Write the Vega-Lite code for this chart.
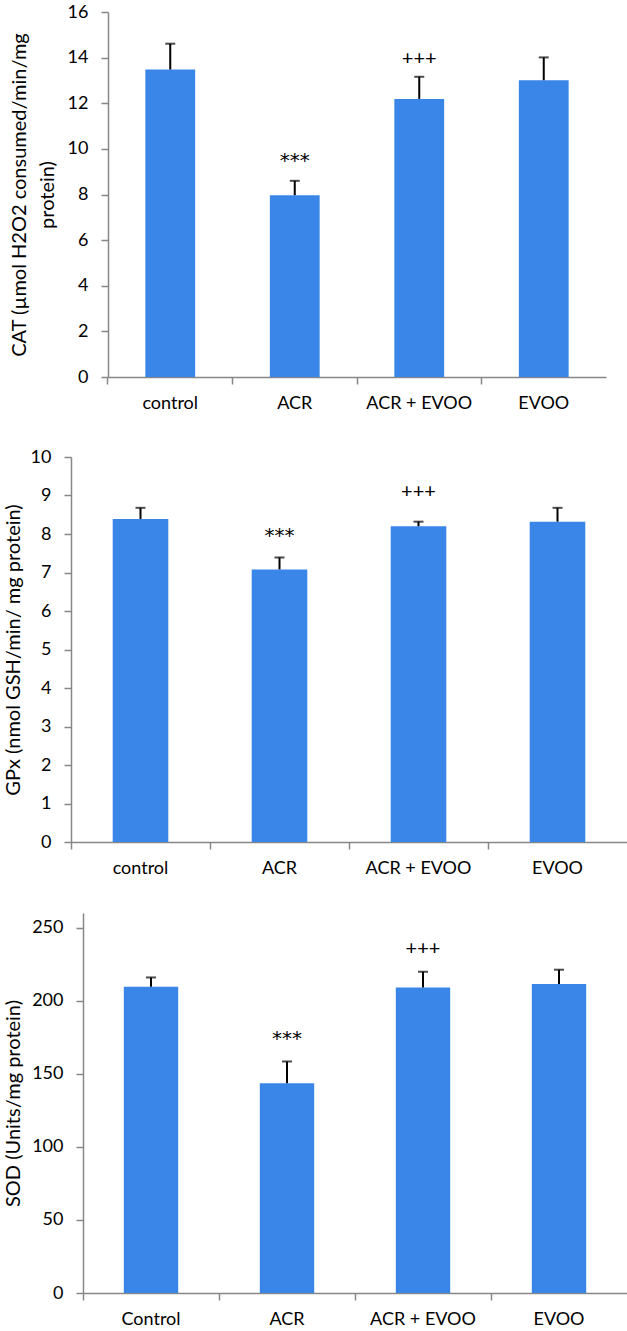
{
  "$schema": "https://vega.github.io/schema/vega-lite/v6.json",
  "padding": {"left": 0, "top": 3, "right": 0, "bottom": 0},
  "background": "white",
  "spacing": 36,
  "config": {
    "font": "Lato",
    "view": {"stroke": null},
    "axis": {
      "domainColor": "#878787",
      "domainWidth": 1.5,
      "tickColor": "#878787",
      "tickWidth": 1.5,
      "tickSize": 7,
      "labelColor": "black",
      "labelFont": "Lato",
      "labelFontSize": 18,
      "titleFont": "Lato",
      "titleFontSize": 20,
      "titleFontWeight": "normal",
      "titleColor": "black",
      "grid": false
    },
    "axisX": {"labelAngle": 0, "labelPadding": 10, "bandPosition": -0.75, "title": null},
    "axisY": {"labelPadding": 13, "labelOverlap": false}
  },
  "vconcat": [
    {"spacing": 0, "hconcat": [
        {"width": 9, "height": 1, "data": {"values": [{}]}, "mark": {"type": "rect", "opacity": 0}, "encoding": {}},
        {
          "width": 498,
          "height": 365,
          "data": {"values": [
            {"group": "control", "mean": 13.48, "upper": 14.61, "sig": ""},
            {"group": "ACR", "mean": 7.97, "upper": 8.6, "sig": "***"},
            {"group": "ACR + EVOO", "mean": 12.19, "upper": 13.16, "sig": "+++"},
            {"group": "EVOO", "mean": 13.01, "upper": 14.01, "sig": ""}
          ]},
          "encoding": {
            "x": {"field": "group", "type": "nominal", "sort": null,
                  "scale": {"paddingInner": 0.6, "paddingOuter": 0.3}}
          },
          "layer": [
            {"mark": {"type": "bar", "color": "#3A85E8"},
             "encoding": {"y": {"field": "mean", "type": "quantitative",
               "scale": {"domain": [0, 16]},
               "axis": {"values": [0, 2, 4, 6, 8, 10, 12, 14, 16], "titlePadding": 10, "titleLineHeight": 28,
                        "title": ["CAT (µmol H2O2 consumed/min/mg", "protein)"]}}}},
            {"mark": {"type": "rule", "color": "black", "strokeWidth": 2},
             "encoding": {"y": {"field": "mean", "type": "quantitative"}, "y2": {"field": "upper"}}},
            {"mark": {"type": "tick", "color": "black", "thickness": 2, "size": 10},
             "encoding": {"y": {"field": "upper", "type": "quantitative"}}},
            {"transform": [{"filter": "datum.sig == '***'"}],
             "mark": {"type": "text", "font": "DejaVu Sans", "fontSize": 20, "baseline": "alphabetic", "dy": -14, "color": "black"},
             "encoding": {"y": {"field": "upper", "type": "quantitative"}, "text": {"field": "sig"}}},
            {"transform": [{"filter": "datum.sig == '+++'"}],
             "mark": {"type": "text", "fontSize": 20, "baseline": "alphabetic", "dy": -12, "color": "black"},
             "encoding": {"y": {"field": "upper", "type": "quantitative"}, "text": {"field": "sig"}}}
          ]
        }
    ]},
    {"spacing": 0, "hconcat": [
        {"width": 3, "height": 1, "data": {"values": [{}]}, "mark": {"type": "rect", "opacity": 0}, "encoding": {}},
        {
          "width": 556,
          "height": 385,
          "data": {"values": [
            {"group": "control", "mean": 8.39, "upper": 8.68, "sig": ""},
            {"group": "ACR", "mean": 7.08, "upper": 7.39, "sig": "***"},
            {"group": "ACR + EVOO", "mean": 8.2, "upper": 8.32, "sig": "+++"},
            {"group": "EVOO", "mean": 8.32, "upper": 8.68, "sig": ""}
          ]},
          "encoding": {
            "x": {"field": "group", "type": "nominal", "sort": null,
                  "scale": {"paddingInner": 0.6, "paddingOuter": 0.3}}
          },
          "layer": [
            {"mark": {"type": "bar", "color": "#3A85E8"},
             "encoding": {"y": {"field": "mean", "type": "quantitative",
               "scale": {"domain": [0, 10]},
               "axis": {"values": [0, 1, 2, 3, 4, 5, 6, 7, 8, 9, 10], "tickCount": 11, "titlePadding": 7,
                        "title": "GPx (nmol GSH/min/ mg protein)"}}}},
            {"mark": {"type": "rule", "color": "black", "strokeWidth": 2},
             "encoding": {"y": {"field": "mean", "type": "quantitative", "axis": {"values": [0, 1, 2, 3, 4, 5, 6, 7, 8, 9, 10], "tickCount": 11}}, "y2": {"field": "upper"}}},
            {"mark": {"type": "tick", "color": "black", "thickness": 2, "size": 10},
             "encoding": {"y": {"field": "upper", "type": "quantitative", "axis": {"values": [0, 1, 2, 3, 4, 5, 6, 7, 8, 9, 10], "tickCount": 11}}}},
            {"transform": [{"filter": "datum.sig == '***'"}],
             "mark": {"type": "text", "font": "DejaVu Sans", "fontSize": 20, "baseline": "alphabetic", "dy": -15, "color": "black"},
             "encoding": {"y": {"field": "upper", "type": "quantitative", "axis": {"values": [0, 1, 2, 3, 4, 5, 6, 7, 8, 9, 10], "tickCount": 11}}, "text": {"field": "sig"}}},
            {"transform": [{"filter": "datum.sig == '+++'"}],
             "mark": {"type": "text", "fontSize": 20, "baseline": "alphabetic", "dy": -24, "color": "black"},
             "encoding": {"y": {"field": "upper", "type": "quantitative", "axis": {"values": [0, 1, 2, 3, 4, 5, 6, 7, 8, 9, 10], "tickCount": 11}}, "text": {"field": "sig"}}}
          ]
        }
    ]},
    {"spacing": 0, "hconcat": [
    {"width": 3, "height": 1, "data": {"values": [{}]}, "mark": {"type": "rect", "opacity": 0}, "encoding": {}},
    {
      "width": 544,
      "height": 380,
      "data": {"values": [
        {"group": "Control", "mean": 209.5, "upper": 215.9, "sig": ""},
        {"group": "ACR", "mean": 143.5, "upper": 158.4, "sig": "***"},
        {"group": "ACR + EVOO", "mean": 209, "upper": 219.8, "sig": "+++"},
        {"group": "EVOO", "mean": 211.5, "upper": 221.2, "sig": ""}
      ]},
      "encoding": {
        "x": {"field": "group", "type": "nominal", "sort": null,
              "scale": {"paddingInner": 0.6, "paddingOuter": 0.3}}
      },
      "layer": [
        {"mark": {"type": "bar", "color": "#3A85E8"},
         "encoding": {"y": {"field": "mean", "type": "quantitative",
           "scale": {"domain": [0, 250]},
           "axis": {"values": [0, 50, 100, 150, 200, 250], "titlePadding": 8,
                    "title": "SOD (Units/mg protein)"}}}},
        {"mark": {"type": "rule", "color": "black", "strokeWidth": 2},
         "encoding": {"y": {"field": "mean", "type": "quantitative"}, "y2": {"field": "upper"}}},
        {"mark": {"type": "tick", "color": "black", "thickness": 2, "size": 10},
         "encoding": {"y": {"field": "upper", "type": "quantitative"}}},
        {"transform": [{"filter": "datum.sig == '***'"}],
         "mark": {"type": "text", "font": "DejaVu Sans", "fontSize": 20, "baseline": "alphabetic", "dy": -16, "color": "black"},
         "encoding": {"y": {"field": "upper", "type": "quantitative"}, "text": {"field": "sig"}}},
        {"transform": [{"filter": "datum.sig == '+++'"}],
         "mark": {"type": "text", "fontSize": 20, "baseline": "alphabetic", "dy": -17, "color": "black"},
         "encoding": {"y": {"field": "upper", "type": "quantitative"}, "text": {"field": "sig"}}}
      ]
    }
    ]}
  ]
}
